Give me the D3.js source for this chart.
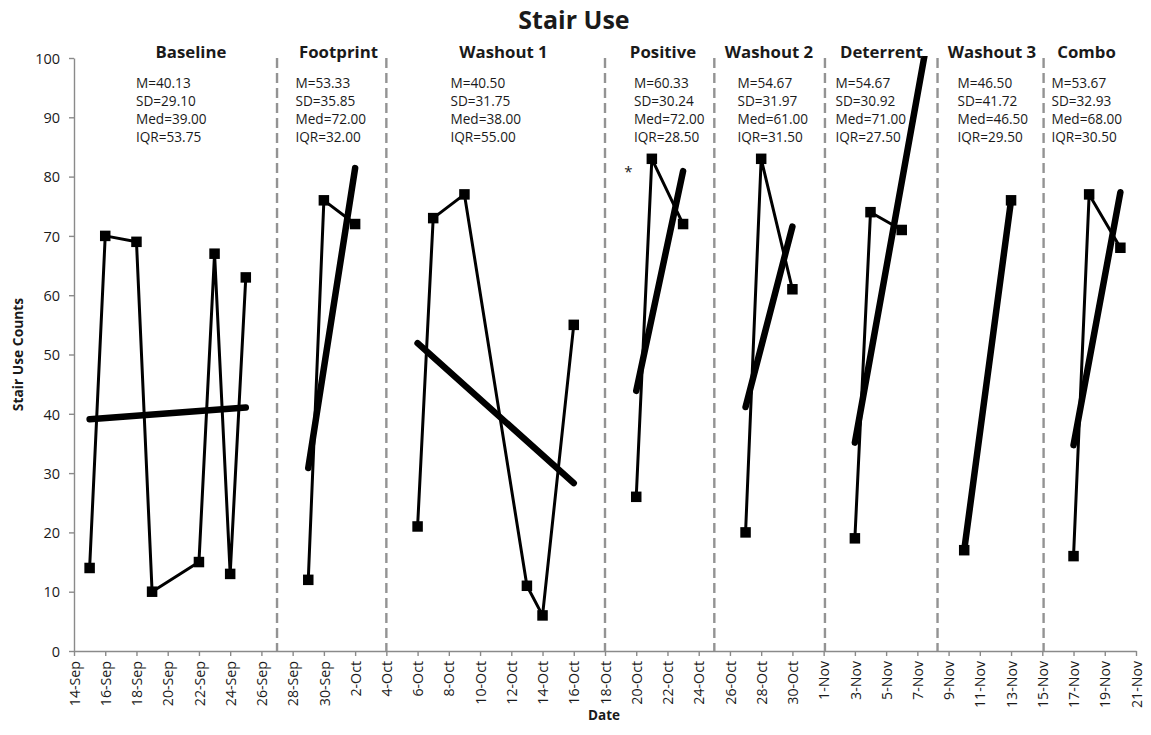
<!DOCTYPE html>
<html>
<head>
<meta charset="utf-8">
<script src="https://cdn.jsdelivr.net/npm/d3@7"></script>
<style>
  html, body { margin: 0; padding: 0; background: #fff; }
  svg { display: block; font-family: "Open Sans", "DejaVu Sans", sans-serif; }
</style>
</head>
<body>
<svg id="chart" width="1151" height="735"></svg>
<script>
// ---------------- data ----------------
const YEAR = "2013";
const phaseNames = ["Baseline", "Footprint", "Washout 1", "Positive", "Washout 2", "Deterrent", "Washout 3", "Combo"];

const baselineDates  = ["15-Sep", "16-Sep", "18-Sep", "19-Sep", "22-Sep", "23-Sep", "24-Sep", "25-Sep"];
const baselineValues = [14, 70, 69, 10, 15, 67, 13, 63];
const footprintDates  = ["29-Sep", "30-Sep", "2-Oct"];
const footprintValues = [12, 76, 72];
const washout1Dates  = ["6-Oct", "7-Oct", "9-Oct", "13-Oct", "14-Oct", "16-Oct"];
const washout1Values = [21, 73, 77, 11, 6, 55];
const positiveDates  = ["20-Oct", "21-Oct", "23-Oct"];
const positiveValues = [26, 83, 72];
const washout2Dates  = ["27-Oct", "28-Oct", "30-Oct"];
const washout2Values = [20, 83, 61];
const deterrentDates  = ["3-Nov", "4-Nov", "6-Nov"];
const deterrentValues = [19, 74, 71];
const washout3Dates  = ["10-Nov", "13-Nov"];
const washout3Values = [17, 76];
const comboDates  = ["17-Nov", "18-Nov", "20-Nov"];
const comboValues = [16, 77, 68];

// trend line forecast forward (days) per phase
const trendForwardDays = [0, 0, 0, 0, 0, 2, 0, 0];

// phase divider positions (date + hour, as drawn)
const dividerDates = ["27-Sep 00", "4-Oct 00", "18-Oct 00", "25-Oct 00", "1-Nov 02", "8-Nov 07", "15-Nov 02"];

const xDomain = ["14-Sep", "21-Nov"];
const xTickStepDays = 2;
const yTicks = [0, 10, 20, 30, 40, 50, 60, 70, 80, 90, 100];
const asteriskPoint = {date: "19-Oct 12", value: 80};

const titleText = "Stair Use";
const xAxisTitle = "Date";
const yAxisTitle = "Stair Use Counts";

// ---------------- layout (not data) ----------------
const W = 1151, H = 735;
const plot = {left: 74, right: 1136, top: 58, bottom: 651};
const phaseLabelX = [191, 338.5, 503.5, 663, 769, 881.5, 992, 1086.5];
const statsX = [136, 295.5, 450.5, 634, 737.5, 835.5, 957.5, 1051.5];

// ---------------- build ----------------
const parseDay = d3.utcParse("%d-%b-%Y");
const parseDayHour = d3.utcParse("%d-%b-%Y %H");
const pd = s => s.includes(" ") ? parseDayHour(s.replace(" ", "-" + YEAR + " ")) : parseDay(s + "-" + YEAR);

const phaseDates = [baselineDates, footprintDates, washout1Dates, positiveDates, washout2Dates, deterrentDates, washout3Dates, comboDates];
const phaseValues = [baselineValues, footprintValues, washout1Values, positiveValues, washout2Values, deterrentValues, washout3Values, comboValues];

const phases = phaseNames.map((name, i) => ({
  name,
  points: phaseDates[i].map((d, j) => ({date: pd(d), value: phaseValues[i][j]})),
  forward: trendForwardDays[i]
}));

const svg = d3.select("#chart");
svg.append("rect").attr("width", W).attr("height", H).attr("fill", "#fff");

const x = d3.scaleUtc().domain(xDomain.map(pd)).range([plot.left, plot.right]);
const y = d3.scaleLinear().domain([0, 100]).range([plot.bottom, plot.top]);

const axisColor = "#8a8a8a";
const textColor = "#1a1a1a";

// clip
svg.append("defs").append("clipPath").attr("id", "plotclip")
  .append("rect").attr("x", plot.left).attr("y", plot.top - 2)
  .attr("width", plot.right - plot.left).attr("height", plot.bottom - plot.top + 2);

// dividers
svg.append("g").selectAll("line").data(dividerDates).join("line")
  .attr("x1", d => x(pd(d))).attr("x2", d => x(pd(d)))
  .attr("y1", plot.top).attr("y2", plot.bottom)
  .attr("stroke", "#939393").attr("stroke-width", 2.4)
  .attr("stroke-dasharray", "10,5");

// axes
const start = pd(xDomain[0]);
const nDays = Math.round((pd(xDomain[1]) - start) / 864e5);
const xTickVals = d3.range(0, nDays + 1, xTickStepDays).map(k => d3.utcDay.offset(start, k));

const gx = svg.append("g").attr("transform", `translate(0,${plot.bottom})`)
  .call(d3.axisBottom(x).tickValues(xTickVals).tickSize(5).tickSizeOuter(0).tickFormat(d3.utcFormat("%-d-%b")));
gx.select(".domain").attr("stroke", axisColor).attr("stroke-width", 1.4);
gx.selectAll(".tick line").attr("stroke", axisColor).attr("stroke-width", 1.4);
gx.selectAll(".tick text")
  .attr("transform", "rotate(-90)")
  .attr("x", -10).attr("y", 0).attr("dy", "0.36em")
  .attr("text-anchor", "end")
  .attr("fill", textColor)
  .style("font-size", "14.2px").style("font-family", "Open Sans");

const gy = svg.append("g").attr("transform", `translate(${plot.left},0)`)
  .call(d3.axisLeft(y).tickValues(yTicks).tickSize(5).tickSizeOuter(0));
gy.select(".domain").attr("stroke", axisColor).attr("stroke-width", 1.4);
gy.selectAll(".tick line").attr("stroke", axisColor).attr("stroke-width", 1.4);
gy.selectAll(".tick text")
  .attr("x", -14).attr("dy", "0.36em")
  .attr("fill", textColor)
  .style("font-size", "14.5px").style("font-family", "Open Sans");

// data lines
const line = d3.line().x(d => x(d.date)).y(d => y(d.value));
const gLines = svg.append("g");
phases.forEach(p => {
  gLines.append("path").datum(p.points)
    .attr("d", line).attr("fill", "none")
    .attr("stroke", "#000").attr("stroke-width", 3)
    .attr("stroke-linejoin", "round");
});

// trend lines (least squares per phase)
const gTrend = svg.append("g").attr("clip-path", "url(#plotclip)");
phases.forEach(p => {
  const xs = p.points.map(d => (d.date - start) / 864e5);
  const ys = p.points.map(d => d.value);
  const mx = d3.mean(xs), my = d3.mean(ys);
  const sxy = d3.sum(xs, (v, i) => (v - mx) * (ys[i] - my));
  const sxx = d3.sum(xs, v => (v - mx) * (v - mx));
  const b = sxy / sxx, a = my - b * mx;
  const x0 = d3.min(xs), x1 = d3.max(xs) + p.forward;
  const seg = [x0, x1].map(t => ({date: new Date(start.getTime() + t * 864e5), value: a + b * t}));
  gTrend.append("path").datum(seg)
    .attr("d", line).attr("fill", "none")
    .attr("stroke", "#000").attr("stroke-width", 6.5)
    .attr("stroke-linecap", "round");
});

// markers
const ms = 10.5;
const gMarks = svg.append("g");
phases.forEach(p => {
  gMarks.selectAll(null).data(p.points).join("rect")
    .attr("x", d => x(d.date) - ms / 2).attr("y", d => y(d.value) - ms / 2)
    .attr("width", ms).attr("height", ms).attr("fill", "#000");
});

// asterisk
svg.append("text").attr("x", x(pd(asteriskPoint.date))).attr("y", y(asteriskPoint.value))
  .attr("text-anchor", "middle")
  .style("font-size", "15px").attr("fill", textColor).text("*");

// phase labels
svg.append("g").selectAll("text").data(phases).join("text")
  .attr("x", (d, i) => phaseLabelX[i]).attr("y", 52).attr("dy", "0.36em")
  .attr("text-anchor", "middle")
  .style("font-size", "16.8px").style("font-weight", "bold")
  .attr("fill", textColor).text(d => d.name);

// stats text
const f2 = v => (Math.round(v * 100 + 1e-9) / 100).toFixed(2);
phases.forEach((p, i) => {
  const vals = p.points.map(d => d.value).sort(d3.ascending);
  const lines = [
    "M=" + f2(d3.mean(vals)),
    "SD=" + f2(d3.deviation(vals)),
    "Med=" + f2(d3.median(vals)),
    "IQR=" + f2(d3.quantileSorted(vals, 0.75) - d3.quantileSorted(vals, 0.25))
  ];
  const g = svg.append("g");
  lines.forEach((t, k) => {
    g.append("text").attr("x", statsX[i]).attr("y", 83.5 + k * 18).attr("dy", "0.36em")
      .style("font-size", "13.6px").attr("fill", textColor).text(t);
  });
});

// titles
svg.append("text").attr("x", 574).attr("y", 20).attr("dy", "0.36em")
  .attr("text-anchor", "middle").style("font-size", "25px").style("font-weight", "bold")
  .attr("fill", textColor).text(titleText);
svg.append("text").attr("x", 604).attr("y", 715).attr("dy", "0.36em")
  .attr("text-anchor", "middle").style("font-size", "13.5px").style("font-weight", "bold")
  .attr("fill", textColor).text(xAxisTitle);
svg.append("text").attr("transform", `translate(18,${(plot.top + plot.bottom) / 2}) rotate(-90)`)
  .attr("dy", "0.36em").attr("text-anchor", "middle")
  .style("font-size", "13.8px").style("font-weight", "bold")
  .attr("fill", textColor).text(yAxisTitle);
</script>
</body>
</html>
